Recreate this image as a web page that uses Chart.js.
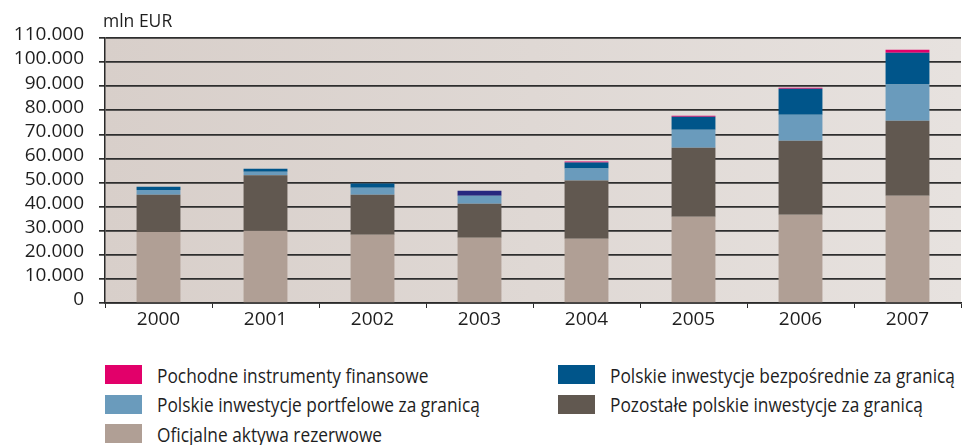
<!DOCTYPE html>
<html>
<head>
<meta charset="utf-8">
<script src="https://cdn.jsdelivr.net/npm/chart.js@4/dist/chart.umd.min.js"></script>
<style>
  body { margin: 0; background: #fff; }
  #wrap { position: relative; width: 968px; height: 445px; }
  #chart { position: absolute; left: 0; top: 0; }
  #legend {
    position: absolute; left: 105px; top: 360px;
    display: grid; grid-template-columns: 453px auto; grid-auto-rows: 29.5px;
    font-family: "Open Sans", sans-serif; font-size: 20.5px; color: #1e1e1e;
  }
  .legend__item { display: flex; align-items: center; white-space: nowrap; }
  .legend__swatch { width: 37px; height: 19px; margin-right: 15px; flex: none; }
  /* the original uses a condensed face */
  .legend__label { display: inline-block; transform: scaleX(0.845); transform-origin: left center; }
</style>
</head>
<body>
<div id="wrap">
  <canvas id="chart" width="968" height="340"></canvas>
  <div id="legend"></div>
</div>
<script>
  // data, mln EUR
  const years = ["2000", "2001", "2002", "2003", "2004", "2005", "2006", "2007"];
  const reserveAssets = [29500, 30000, 28350, 27100, 26700, 35800, 36650, 44550];
  const otherInvestment = [15450, 23000, 16600, 14100, 24100, 28650, 30700, 31150];
  const portfolioInvestment = [1950, 1500, 2900, 3300, 5000, 7450, 10800, 14950];
  const directInvestment = [1400, 1250, 1800, 2100, 2500, 5400, 10800, 13250];
  const derivatives = [0, 0, 0, 0, 400, 400, 400, 1250];
  const yTicks = [0, 10000, 20000, 30000, 40000, 50000, 60000, 70000, 80000, 90000, 100000, 110000];

  const labels = {
    reserve: "Oficjalne aktywa rezerwowe",
    other: "Pozostałe polskie inwestycje za granicą",
    portfolio: "Polskie inwestycje portfelowe za granicą",
    direct: "Polskie inwestycje bezpośrednie za granicą",
    deriv: "Pochodne instrumenty finansowe",
  };
  const colors = {
    reserve: "#b09f95",
    other: "#615850",
    portfolio: "#6a9bbc",
    direct: "#00558a",
    deriv: "#e2006a",
  };
  // 2003 top segment is printed in a darker navy in the original
  const directColors = years.map((y) => (y === "2003" ? "#27277f" : colors.direct));

  function makeSet(key, data, bg) {
    return {
      label: labels[key],
      data: data,
      backgroundColor: bg || colors[key],
      legendColor: colors[key],
      borderWidth: 0,
      barPercentage: 0.41,
      categoryPercentage: 1,
    };
  }

  const datasets = [
    makeSet("reserve", reserveAssets),
    makeSet("other", otherInvestment),
    makeSet("portfolio", portfolioInvestment),
    makeSet("direct", directInvestment, directColors),
    makeSet("deriv", derivatives),
  ];

  // plot background gradient
  const bgPlugin = {
    id: "plotBg",
    beforeDraw(chart) {
      const { ctx, chartArea: a } = chart;
      const g = ctx.createLinearGradient(a.left, 0, a.right, 0);
      g.addColorStop(0, "#d8cfca");
      g.addColorStop(0.5, "#dfd8d4");
      g.addColorStop(1, "#e7e2df");
      ctx.save();
      ctx.fillStyle = g;
      ctx.fillRect(a.left, a.top, a.right - a.left, a.bottom - a.top);
      ctx.restore();
    },
  };

  // unit label above the axis
  const unitPlugin = {
    id: "unit",
    afterDraw(chart) {
      const { ctx, chartArea: a } = chart;
      ctx.save();
      ctx.font = "17.5px 'Open Sans'";
      ctx.fillStyle = "#1e1e1e";
      ctx.textAlign = "left";
      ctx.textBaseline = "alphabetic";
      ctx.fillText("mln EUR", a.left - 2, 27);
      ctx.restore();
    },
  };

  const tickFont = { family: "'Open Sans'", size: 19 };

  const chart = new Chart(document.getElementById("chart"), {
    type: "bar",
    data: { labels: years, datasets: datasets },
    plugins: [bgPlugin, unitPlugin],
    options: {
      responsive: false,
      animation: false,
      layout: { padding: { top: 38, right: 7, left: 0, bottom: 0 } },
      plugins: { legend: { display: false }, tooltip: { enabled: false } },
      scales: {
        x: {
          stacked: true,
          z: 1,
          grid: { drawOnChartArea: false, drawTicks: true, tickLength: 5, color: "#2a2a2a", lineWidth: 1 },
          border: { display: true, color: "#2a2a2a", width: 1.5 },
          ticks: { font: tickFont, color: "#1e1e1e", padding: 0 },
          afterFit(scale) { scale.height = 37; },
        },
        y: {
          stacked: true,
          z: 1,
          min: 0,
          max: 110000,
          afterBuildTicks(scale) { scale.ticks = yTicks.map((v) => ({ value: v })); },
          grid: { color: "#2e2e2e", lineWidth: 1.7, tickLength: 6 },
          border: { display: true, color: "#2a2a2a", width: 1.5 },
          ticks: {
            font: tickFont,
            color: "#1e1e1e",
            autoSkip: false,
            padding: 15,
            labelOffset: -3,
            callback: (v) => v.toLocaleString("de-DE"),
          },
          afterFit(scale) { scale.width = 105; },
        },
      },
    },
  });

  // html legend, two columns, read row by row
  const legendOrder = [4, 3, 2, 1, 0];
  document.getElementById("legend").innerHTML = legendOrder
    .map((i) => {
      const ds = chart.data.datasets[i];
      return (
        '<div class="legend__item"><span class="legend__swatch" style="background-color:' +
        ds.legendColor + '"></span><span class="legend__label">' + ds.label + "</span></div>"
      );
    })
    .join("");
</script>
</body>
</html>
